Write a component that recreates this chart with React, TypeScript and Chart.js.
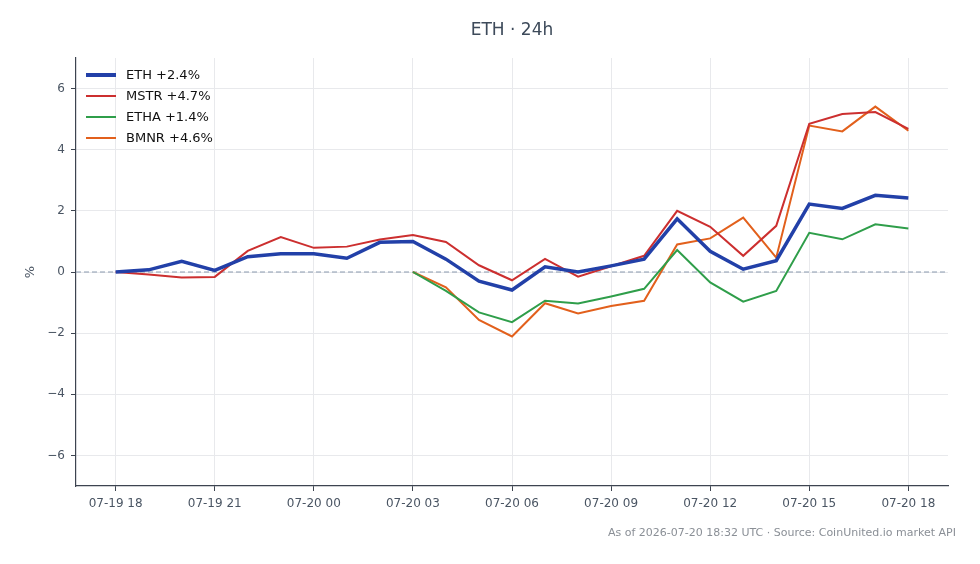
import React, { useEffect, useRef } from "react";
import { Chart, registerables } from "chart.js";

Chart.register(...registerables);

const hours = [0, 1, 2, 3, 4, 5, 6, 7, 8, 9, 10, 11, 12, 13, 14, 15, 16, 17, 18, 19, 20, 21, 22, 23, 24];
const tickHours = [0, 3, 6, 9, 12, 15, 18, 21, 24];
const tickLabels = ["07-19 18", "07-19 21", "07-20 00", "07-20 03", "07-20 06", "07-20 09", "07-20 12", "07-20 15", "07-20 18"];

const ethValues = [0.0, 0.07, 0.35, 0.05, 0.5, 0.6, 0.6, 0.45, 0.97, 1.0, 0.42, -0.3, -0.59, 0.17, 0.0, 0.2, 0.42, 1.74, 0.68, 0.09, 0.37, 2.22, 2.08, 2.51, 2.42];
const mstrValues = [0.0, -0.08, -0.18, -0.16, 0.69, 1.14, 0.79, 0.83, 1.06, 1.21, 0.98, 0.22, -0.27, 0.43, -0.15, 0.19, 0.53, 2.0, 1.48, 0.53, 1.51, 4.85, 5.17, 5.23, 4.68];
const ethaValues = [null, null, null, null, null, null, null, null, null, 0.0, -0.62, -1.32, -1.64, -0.94, -1.03, -0.8, -0.55, 0.72, -0.34, -0.97, -0.62, 1.28, 1.07, 1.56, 1.42];
const bmnrValues = [null, null, null, null, null, null, null, null, null, 0.0, -0.5, -1.57, -2.11, -1.02, -1.36, -1.11, -0.94, 0.9, 1.1, 1.78, 0.47, 4.79, 4.6, 5.41, 4.62];

const seriesNames = ["ETH +2.4%", "MSTR +4.7%", "ETHA +1.4%", "BMNR +4.6%"];
const seriesColors = ["#2240a8", "#cc2f2f", "#2f9e4a", "#e2601c"];
const seriesWidths = [3.5, 2, 2, 2];
const yTicks = [-6, -4, -2, 0, 2, 4, 6];

const titleText = "ETH · 24h";
const footerText = "As of 2026-07-20 18:32 UTC · Source: CoinUnited.io market API";
const FONT = "'DejaVu Sans', sans-serif";

const toPoints = (vals: (number | null)[]) =>
  hours.map((h, i) => ({ x: h, y: vals[i] }));

const overlayPlugin = {
  id: "overlay",
  beforeDatasetsDraw(chart: any) {
    const { ctx, chartArea, scales } = chart;
    const y0 = scales.y.getPixelForValue(0);
    ctx.save();
    ctx.strokeStyle = "#8a9aae";
    ctx.lineWidth = 1;
    ctx.setLineDash([5, 3]);
    ctx.beginPath();
    ctx.moveTo(chartArea.left, y0);
    ctx.lineTo(chartArea.right, y0);
    ctx.stroke();
    ctx.restore();
  },
  afterDraw(chart: any) {
    const { ctx, chartArea } = chart;
    ctx.save();
    // title
    ctx.fillStyle = "#3d4a5a";
    ctx.font = `17px ${FONT}`;
    ctx.textAlign = "center";
    ctx.textBaseline = "middle";
    ctx.fillText(titleText, (chartArea.left + chartArea.right) / 2, 31);
    // y label
    ctx.save();
    ctx.translate(31, (chartArea.top + chartArea.bottom) / 2);
    ctx.rotate(-Math.PI / 2);
    ctx.fillStyle = "#4a5563";
    ctx.font = `13px ${FONT}`;
    ctx.fillText("%", 0, 0);
    ctx.restore();
    // footer
    ctx.fillStyle = "#8a8f96";
    ctx.font = `11px ${FONT}`;
    ctx.textAlign = "right";
    ctx.fillText(footerText, 956, 533);
    // legend
    ctx.textAlign = "left";
    ctx.font = `13px ${FONT}`;
    seriesNames.forEach((name, i) => {
      const y = 75 + i * 21;
      ctx.strokeStyle = seriesColors[i];
      ctx.lineWidth = i === 0 ? 4 : 2;
      ctx.setLineDash([]);
      ctx.beginPath();
      ctx.moveTo(86, y);
      ctx.lineTo(116, y);
      ctx.stroke();
      ctx.fillStyle = "#111";
      ctx.fillText(name, 126, y + 1);
    });
    ctx.restore();
  },
};

export default function App() {
  const ref = useRef<HTMLCanvasElement | null>(null);
  useEffect(() => {
    document.body.style.margin = "0";
    const values = [ethValues, mstrValues, ethaValues, bmnrValues];
    const chart = new Chart(ref.current as HTMLCanvasElement, {
      type: "line",
      data: {
        datasets: values.map((v, i) => ({
          label: seriesNames[i],
          data: toPoints(v),
          borderColor: seriesColors[i],
          backgroundColor: seriesColors[i],
          borderWidth: seriesWidths[i],
          pointRadius: 0,
          tension: 0,
          spanGaps: false,
        })),
      },
      options: {
        animation: false,
        responsive: false,
        maintainAspectRatio: false,
        layout: { padding: { top: 58, right: 32, left: 0, bottom: 0 } },
        plugins: { legend: { display: false }, tooltip: { enabled: false }, title: { display: false } },
        scales: {
          x: {
            type: "linear",
            min: -1.2,
            max: 25.2,
            afterBuildTicks: (s: any) => {
              s.ticks = tickHours.map((v) => ({ value: v }));
            },
            afterFit: (s: any) => {
              s.height = 78;
            },
            ticks: {
              autoSkip: false,
              maxRotation: 0,
              color: "#4a5563",
              font: { family: FONT, size: 12 },
              padding: 6,
              callback: (v: any) => {
                const idx = tickHours.indexOf(Number(v));
                return idx >= 0 ? tickLabels[idx] : "";
              },
            },
            grid: { color: "#e8e9ec", lineWidth: 1, tickColor: "#3d4450", tickLength: 5, drawTicks: true },
            border: { color: "#3d4450", width: 1.2 },
          },
          y: {
            type: "linear",
            min: -7,
            max: 7,
            afterBuildTicks: (s: any) => {
              s.ticks = yTicks.map((v) => ({ value: v }));
            },
            afterFit: (s: any) => {
              s.width = 76;
            },
            ticks: {
              color: "#4a5563",
              font: { family: FONT, size: 12 },
              padding: 6,
              callback: (v: any) => (Number(v) < 0 ? "\u2212" + Math.abs(Number(v)) : String(v)),
            },
            grid: { color: "#e8e9ec", lineWidth: 1, tickColor: "#3d4450", tickLength: 5, drawTicks: true },
            border: { color: "#3d4450", width: 1.2 },
          },
        },
      },
      plugins: [overlayPlugin],
    } as any);
    return () => chart.destroy();
  }, []);
  return (
    <div style={{ position: "absolute", left: 0, top: 0, width: 980, height: 564, background: "#fff" }}>
      <canvas ref={ref} width={980} height={564} style={{ width: 980, height: 564 }} />
    </div>
  );
}
